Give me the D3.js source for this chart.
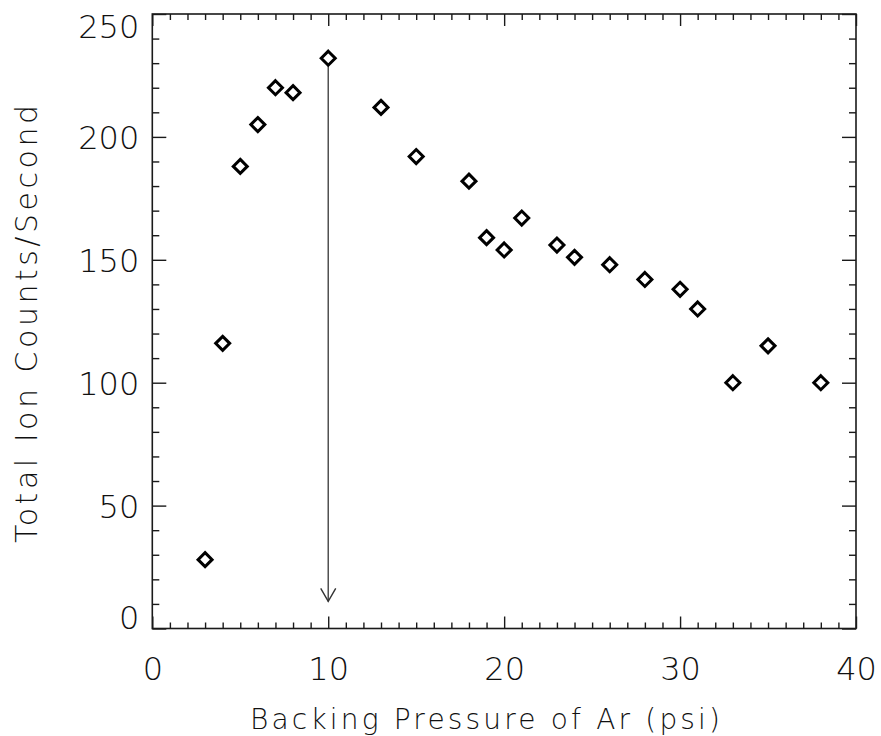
<!DOCTYPE html>
<html>
<head>
<meta charset="utf-8">
<script src="https://cdn.jsdelivr.net/npm/d3@7"></script>
<style>
  body { margin: 0; background: #fff; }
  text { font-family: "DejaVu Sans", sans-serif; font-weight: 200; fill: #111; }
</style>
</head>
<body>
<svg id="chart" width="881" height="736"></svg>
<script>
// Ion yield versus argon backing pressure
const pressure  = [3, 4, 5, 6, 7, 8, 10, 13, 15, 18, 19, 20, 21, 23, 24, 26, 28, 30, 31, 33, 35, 38];
const ionCounts = [28, 116, 188, 205, 220, 218, 232, 212, 192, 182, 159, 154, 167, 156, 151, 148, 142, 138, 130, 100, 115, 100];

const xMajorTicks = [0, 10, 20, 30, 40];
const yMajorTicks = [0, 50, 100, 150, 200, 250];
const xMinorTicks = d3.range(0, 41, 1);
const yMinorTicks = d3.range(0, 251, 10);

// marker for the optimum pressure
const arrowPressure = 10;
const arrowFrom = 232;
const arrowTo = 11;

const xTitle = "Backing Pressure of Ar (psi)";
const yTitle = "Total Ion Counts/Second";

const svg = d3.select("#chart");
const plotLeft = 152.3, plotRight = 856, plotTop = 14, plotBottom = 628.5;

const x = d3.scaleLinear().domain([0, 40]).range([plotLeft, plotRight]);
const y = d3.scaleLinear().domain([0, 250]).range([plotBottom, plotTop]);

const axisColor = "#1a1a1a";

// frame
svg.append("rect")
  .attr("x", plotLeft).attr("y", plotTop)
  .attr("width", plotRight - plotLeft).attr("height", plotBottom - plotTop)
  .attr("fill", "none").attr("stroke", axisColor).attr("stroke-width", 1.6);

function styleTicks(g) {
  g.select(".domain").remove();
  g.selectAll(".tick line").attr("stroke", axisColor).attr("stroke-width", 1.4);
}

// inward ticks on all four sides
const xMinorNoMajor = xMinorTicks.filter(v => !xMajorTicks.includes(v));
const yMinorNoMajor = yMinorTicks.filter(v => !yMajorTicks.includes(v));

svg.append("g").attr("transform", `translate(0,${plotBottom})`)
  .call(d3.axisBottom(x).tickValues(xMinorNoMajor).tickSize(-6).tickFormat(""))
  .call(styleTicks);
svg.append("g").attr("transform", `translate(0,${plotTop})`)
  .call(d3.axisTop(x).tickValues(xMinorNoMajor).tickSize(-6).tickFormat(""))
  .call(styleTicks);
svg.append("g").attr("transform", `translate(0,${plotTop})`)
  .call(d3.axisTop(x).tickValues(xMajorTicks).tickSize(-12).tickFormat(""))
  .call(styleTicks);

const xAxis = svg.append("g").attr("transform", `translate(0,${plotBottom})`)
  .call(d3.axisBottom(x).tickValues(xMajorTicks).tickSize(-12).tickPadding(0).tickFormat(d3.format("d")))
  .call(styleTicks);
xAxis.selectAll(".tick text")
  .attr("y", 51.5).attr("dy", null)
  .style("font-size", "32px").style("font-family", null);

svg.append("g").attr("transform", `translate(${plotLeft},0)`)
  .call(d3.axisLeft(y).tickValues(yMinorNoMajor).tickSize(-7).tickFormat(""))
  .call(styleTicks);
svg.append("g").attr("transform", `translate(${plotRight},0)`)
  .call(d3.axisRight(y).tickValues(yMinorNoMajor).tickSize(-7).tickFormat(""))
  .call(styleTicks);
svg.append("g").attr("transform", `translate(${plotRight},0)`)
  .call(d3.axisRight(y).tickValues(yMajorTicks).tickSize(-14).tickFormat(""))
  .call(styleTicks);

const yAxis = svg.append("g").attr("transform", `translate(${plotLeft},0)`)
  .call(d3.axisLeft(y).tickValues(yMajorTicks).tickSize(-14).tickPadding(13).tickFormat(d3.format("d")))
  .call(styleTicks);
// end labels are kept inside the frame's vertical extent
yAxis.selectAll(".tick text")
  .style("font-size", "32px").style("font-family", null)
  .attr("dy", "0.36em")
  .attr("y", d => {
    const p = y(d);
    const c = Math.min(Math.max(p, plotTop + 11.5), plotBottom - 11.5);
    return c - p;
  });

// arrow at the optimum
const ax = x(arrowPressure);
const tipY = y(arrowTo);
svg.append("line")
  .attr("x1", ax).attr("x2", ax)
  .attr("y1", y(arrowFrom) + 8).attr("y2", tipY)
  .attr("stroke", "#444").attr("stroke-width", 1.4);
svg.append("path")
  .attr("d", `M${ax - 7.5},${tipY - 13}L${ax},${tipY}L${ax + 7.5},${tipY - 13}`)
  .attr("fill", "none").attr("stroke", "#333").attr("stroke-width", 1.4);

// diamond markers
const r = 7;
svg.append("g").selectAll("path")
  .data(pressure.map((p, i) => [p, ionCounts[i]]))
  .join("path")
  .attr("d", d => {
    const cx = x(d[0]), cy = y(d[1]);
    return `M${cx},${cy - r}L${cx + r},${cy}L${cx},${cy + r}L${cx - r},${cy}Z`;
  })
  .attr("fill", "none").attr("stroke", "#000").attr("stroke-width", 3);

// axis titles
svg.append("text")
  .attr("x", 485).attr("y", 729)
  .attr("text-anchor", "middle")
  .style("font-size", "28px")
  .attr("textLength", 470).attr("lengthAdjust", "spacing")
  .text(xTitle);

svg.append("text")
  .attr("transform", `translate(37,${324}) rotate(-90)`)
  .attr("text-anchor", "middle")
  .style("font-size", "30px")
  .attr("textLength", 438).attr("lengthAdjust", "spacing")
  .text(yTitle);
</script>
</body>
</html>
